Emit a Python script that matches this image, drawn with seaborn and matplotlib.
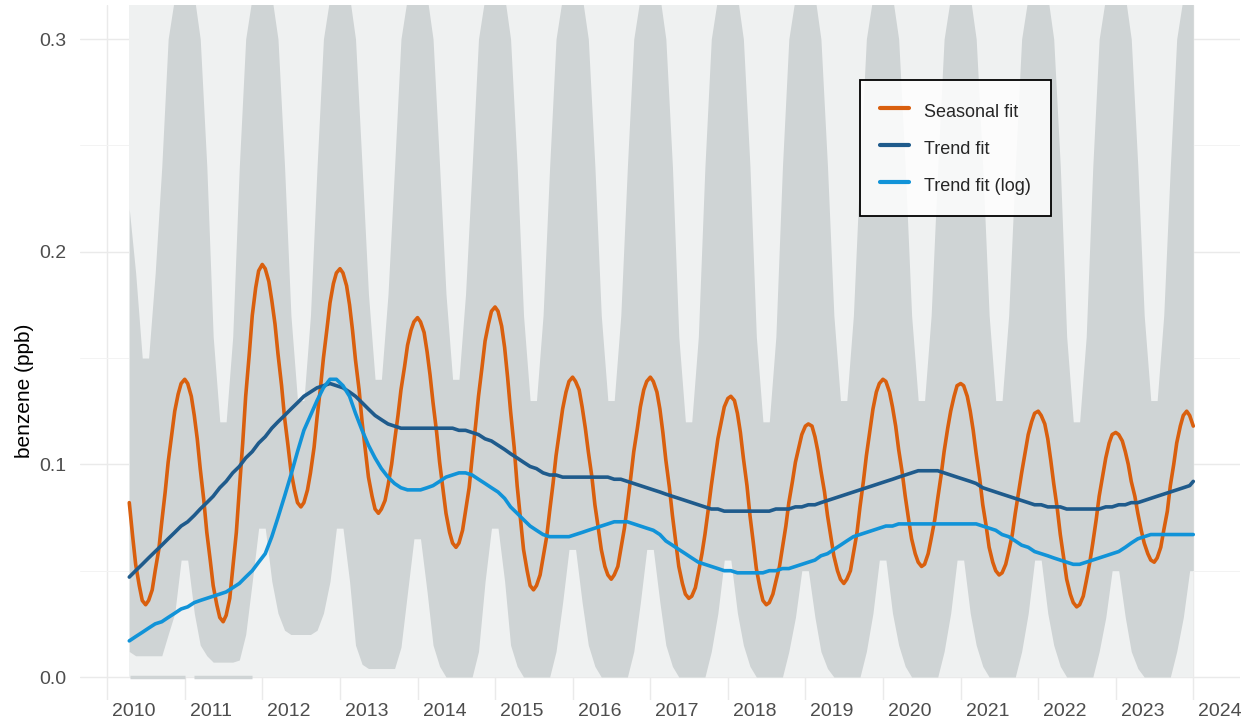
import pandas as pd
import matplotlib
matplotlib.use("Agg")
import matplotlib.pyplot as plt
import matplotlib.transforms as mtransforms
import seaborn as sns

# ---- values ----
# seasonal fit: samples on the 1st and 15th of each month, 15 Apr 2010 .. 1 Jan 2024
half_months = list(pd.date_range("2010-04-15", "2024-01-01", freq="SMS"))
seasonal_fit = [
    0.082, 0.066, 0.053, 0.043, 0.036, 0.034, 0.036, 0.041, 0.050, 0.060, 0.073, 0.087,
    0.101, 0.114, 0.125, 0.133, 0.138,                                                      # 2010
    0.140, 0.138, 0.132, 0.123, 0.112, 0.098, 0.083, 0.068, 0.055, 0.043, 0.034, 0.028,
    0.026, 0.029, 0.037, 0.051, 0.068, 0.088, 0.110, 0.132, 0.152, 0.170, 0.183, 0.191,    # 2011
    0.194, 0.192, 0.186, 0.177, 0.166, 0.152, 0.137, 0.122, 0.109, 0.097, 0.088, 0.082,
    0.080, 0.082, 0.088, 0.096, 0.108, 0.122, 0.136, 0.150, 0.164, 0.176, 0.185, 0.190,    # 2012
    0.192, 0.190, 0.184, 0.175, 0.163, 0.149, 0.135, 0.120, 0.106, 0.094, 0.085, 0.079,
    0.077, 0.079, 0.083, 0.090, 0.100, 0.111, 0.123, 0.135, 0.146, 0.156, 0.163, 0.167,    # 2013
    0.169, 0.167, 0.162, 0.153, 0.142, 0.129, 0.115, 0.101, 0.088, 0.077, 0.068, 0.063,
    0.061, 0.063, 0.069, 0.078, 0.089, 0.103, 0.118, 0.132, 0.146, 0.158, 0.166, 0.172,    # 2014
    0.174, 0.172, 0.165, 0.155, 0.141, 0.125, 0.108, 0.090, 0.074, 0.060, 0.050, 0.043,
    0.041, 0.043, 0.048, 0.056, 0.066, 0.078, 0.091, 0.104, 0.116, 0.126, 0.134, 0.139,    # 2015
    0.141, 0.139, 0.135, 0.127, 0.117, 0.106, 0.094, 0.081, 0.070, 0.060, 0.052, 0.048,
    0.046, 0.048, 0.052, 0.060, 0.070, 0.081, 0.094, 0.106, 0.117, 0.127, 0.135, 0.139,    # 2016
    0.141, 0.139, 0.134, 0.126, 0.115, 0.102, 0.089, 0.076, 0.063, 0.052, 0.044, 0.039,
    0.037, 0.038, 0.042, 0.049, 0.058, 0.067, 0.079, 0.090, 0.102, 0.112, 0.120, 0.127,    # 2017
    0.131, 0.132, 0.130, 0.124, 0.115, 0.103, 0.090, 0.076, 0.063, 0.051, 0.042, 0.036,
    0.034, 0.035, 0.039, 0.045, 0.052, 0.061, 0.071, 0.082, 0.092, 0.101, 0.108, 0.114,    # 2018
    0.118, 0.119, 0.118, 0.113, 0.106, 0.097, 0.087, 0.076, 0.066, 0.057, 0.050, 0.046,
    0.044, 0.046, 0.050, 0.058, 0.068, 0.080, 0.092, 0.104, 0.116, 0.126, 0.134, 0.138,    # 2019
    0.140, 0.139, 0.134, 0.127, 0.118, 0.107, 0.096, 0.085, 0.074, 0.065, 0.058, 0.054,
    0.052, 0.053, 0.058, 0.065, 0.074, 0.084, 0.095, 0.106, 0.117, 0.125, 0.132, 0.137,    # 2020
    0.138, 0.137, 0.132, 0.125, 0.116, 0.105, 0.093, 0.081, 0.071, 0.061, 0.054, 0.050,
    0.048, 0.049, 0.053, 0.059, 0.067, 0.077, 0.087, 0.096, 0.106, 0.114, 0.120, 0.124,    # 2021
    0.125, 0.123, 0.119, 0.112, 0.102, 0.091, 0.079, 0.067, 0.056, 0.046, 0.039, 0.035,
    0.033, 0.034, 0.038, 0.045, 0.054, 0.063, 0.074, 0.085, 0.095, 0.103, 0.110, 0.114,    # 2022
    0.115, 0.114, 0.111, 0.106, 0.100, 0.092, 0.085, 0.077, 0.069, 0.063, 0.058, 0.055,
    0.054, 0.056, 0.061, 0.069, 0.078, 0.090, 0.100, 0.110, 0.118, 0.123, 0.125, 0.123,    # 2023
    0.118,
]

# trend fits and point cloud: mid-month samples, Apr 2010 .. Dec 2023, then 1 Jan 2024
months = list(pd.date_range("2010-04-01", "2023-12-01", freq="MS") + pd.Timedelta(days=14))
months = months + [pd.Timestamp("2024-01-01")]

trend_fit = [
    0.047, 0.050, 0.053, 0.056, 0.059, 0.062, 0.065, 0.068, 0.071,
    0.073, 0.076, 0.079, 0.082, 0.085, 0.089, 0.092, 0.096, 0.099, 0.103, 0.106, 0.110,
    0.113, 0.117, 0.120, 0.123, 0.126, 0.129, 0.132, 0.134, 0.136, 0.137, 0.138, 0.137,
    0.136, 0.134, 0.132, 0.129, 0.126, 0.123, 0.121, 0.119, 0.118, 0.117, 0.117, 0.117,
    0.117, 0.117, 0.117, 0.117, 0.117, 0.117, 0.116, 0.116, 0.115, 0.114, 0.112, 0.111,
    0.109, 0.107, 0.105, 0.103, 0.101, 0.099, 0.098, 0.096, 0.095, 0.095, 0.094, 0.094,
    0.094, 0.094, 0.094, 0.094, 0.094, 0.094, 0.093, 0.093, 0.092, 0.091, 0.090, 0.089,
    0.088, 0.087, 0.086, 0.085, 0.084, 0.083, 0.082, 0.081, 0.080, 0.079, 0.079, 0.078,
    0.078, 0.078, 0.078, 0.078, 0.078, 0.078, 0.078, 0.079, 0.079, 0.079, 0.080, 0.080,
    0.081, 0.081, 0.082, 0.083, 0.084, 0.085, 0.086, 0.087, 0.088, 0.089, 0.090, 0.091,
    0.092, 0.093, 0.094, 0.095, 0.096, 0.097, 0.097, 0.097, 0.097, 0.096, 0.095, 0.094,
    0.093, 0.092, 0.091, 0.089, 0.088, 0.087, 0.086, 0.085, 0.084, 0.083, 0.082, 0.081,
    0.081, 0.080, 0.080, 0.080, 0.079, 0.079, 0.079, 0.079, 0.079, 0.079, 0.080, 0.080,
    0.081, 0.081, 0.082, 0.082, 0.083, 0.084, 0.085, 0.086, 0.087, 0.088, 0.089, 0.090,
    0.092,
]

trend_fit_log = [
    0.017, 0.019, 0.021, 0.023, 0.025, 0.026, 0.028, 0.030, 0.032,
    0.033, 0.035, 0.036, 0.037, 0.038, 0.039, 0.040, 0.042, 0.044, 0.047, 0.050, 0.054,
    0.058, 0.066, 0.075, 0.085, 0.095, 0.106, 0.116, 0.123, 0.130, 0.136, 0.140, 0.140,
    0.137, 0.132, 0.124, 0.116, 0.109, 0.103, 0.098, 0.094, 0.091, 0.089, 0.088, 0.088,
    0.088, 0.089, 0.090, 0.092, 0.094, 0.095, 0.096, 0.096, 0.095, 0.093, 0.091, 0.089,
    0.087, 0.084, 0.080, 0.077, 0.074, 0.071, 0.069, 0.067, 0.066, 0.066, 0.066, 0.066,
    0.067, 0.068, 0.069, 0.070, 0.071, 0.072, 0.073, 0.073, 0.073, 0.072, 0.071, 0.070,
    0.069, 0.067, 0.064, 0.062, 0.060, 0.058, 0.056, 0.054, 0.053, 0.052, 0.051, 0.050,
    0.050, 0.049, 0.049, 0.049, 0.049, 0.049, 0.050, 0.050, 0.051, 0.051, 0.052, 0.053,
    0.054, 0.055, 0.057, 0.058, 0.060, 0.062, 0.064, 0.066, 0.067, 0.068, 0.069, 0.070,
    0.071, 0.071, 0.072, 0.072, 0.072, 0.072, 0.072, 0.072, 0.072, 0.072, 0.072, 0.072,
    0.072, 0.072, 0.072, 0.071, 0.070, 0.069, 0.067, 0.066, 0.064, 0.062, 0.061, 0.059,
    0.058, 0.057, 0.056, 0.055, 0.054, 0.053, 0.053, 0.054, 0.055, 0.056, 0.057, 0.058,
    0.059, 0.061, 0.063, 0.065, 0.066, 0.067, 0.067, 0.067, 0.067, 0.067, 0.067, 0.067,
    0.067,
]

# dense part of the hourly point cloud: lower / upper edge per month
cloud_low = [
    0.012, 0.010, 0.010, 0.010, 0.010, 0.010, 0.020, 0.030, 0.055,
    0.055, 0.030, 0.015, 0.010, 0.007, 0.007, 0.007, 0.007, 0.008, 0.020, 0.045, 0.070,
    0.070, 0.045, 0.030, 0.022, 0.020, 0.020, 0.020, 0.020, 0.022, 0.030, 0.045, 0.070,
    0.070, 0.045, 0.015, 0.006, 0.004, 0.004, 0.004, 0.004, 0.004, 0.014, 0.040, 0.065,
    0.065, 0.040, 0.015, 0.005, 0.000, 0.000, 0.000, 0.000, 0.000, 0.012, 0.045, 0.070,
    0.070, 0.045, 0.015, 0.005, 0.000, 0.000, 0.000, 0.000, 0.000, 0.012, 0.035, 0.060,
    0.060, 0.035, 0.015, 0.005, 0.000, 0.000, 0.000, 0.000, 0.000, 0.012, 0.035, 0.060,
    0.060, 0.035, 0.015, 0.005, 0.000, 0.000, 0.000, 0.000, 0.000, 0.012, 0.030, 0.055,
    0.055, 0.030, 0.015, 0.005, 0.000, 0.000, 0.000, 0.000, 0.000, 0.012, 0.028, 0.050,
    0.050, 0.028, 0.012, 0.004, 0.000, 0.000, 0.000, 0.000, 0.000, 0.012, 0.030, 0.055,
    0.055, 0.030, 0.015, 0.005, 0.000, 0.000, 0.000, 0.000, 0.000, 0.012, 0.030, 0.055,
    0.055, 0.030, 0.015, 0.005, 0.000, 0.000, 0.000, 0.000, 0.000, 0.012, 0.030, 0.055,
    0.055, 0.030, 0.015, 0.005, 0.000, 0.000, 0.000, 0.000, 0.000, 0.012, 0.028, 0.050,
    0.050, 0.028, 0.012, 0.004, 0.000, 0.000, 0.000, 0.000, 0.000, 0.012, 0.028, 0.050,
    0.050,
]

cloud_high = [
    0.22, 0.19, 0.15, 0.15, 0.19, 0.24, 0.30, 0.32, 0.32,
    0.32, 0.32, 0.30, 0.24, 0.16, 0.12, 0.12, 0.16, 0.24, 0.30, 0.32, 0.32,
    0.32, 0.32, 0.30, 0.24, 0.17, 0.13, 0.13, 0.17, 0.24, 0.30, 0.32, 0.32,
    0.32, 0.32, 0.30, 0.24, 0.18, 0.14, 0.14, 0.18, 0.24, 0.30, 0.32, 0.32,
    0.32, 0.32, 0.30, 0.24, 0.18, 0.14, 0.14, 0.18, 0.24, 0.30, 0.32, 0.32,
    0.32, 0.32, 0.30, 0.24, 0.17, 0.13, 0.13, 0.17, 0.24, 0.30, 0.32, 0.32,
    0.32, 0.32, 0.30, 0.24, 0.17, 0.13, 0.13, 0.17, 0.24, 0.30, 0.32, 0.32,
    0.32, 0.32, 0.30, 0.24, 0.16, 0.12, 0.12, 0.16, 0.24, 0.30, 0.32, 0.32,
    0.32, 0.32, 0.30, 0.24, 0.16, 0.12, 0.12, 0.16, 0.24, 0.30, 0.32, 0.32,
    0.32, 0.32, 0.30, 0.24, 0.17, 0.13, 0.13, 0.17, 0.24, 0.30, 0.32, 0.32,
    0.32, 0.32, 0.30, 0.24, 0.17, 0.13, 0.13, 0.17, 0.24, 0.30, 0.32, 0.32,
    0.32, 0.32, 0.30, 0.24, 0.17, 0.13, 0.13, 0.17, 0.24, 0.30, 0.32, 0.32,
    0.32, 0.32, 0.30, 0.24, 0.16, 0.12, 0.12, 0.16, 0.24, 0.30, 0.32, 0.32,
    0.32, 0.32, 0.30, 0.24, 0.17, 0.13, 0.13, 0.17, 0.24, 0.30, 0.32, 0.32,
    0.32,
]

# runs of readings sitting exactly at 0 ppb
zero_start = ["2010-04-20", "2011-02-15"]
zero_end = ["2011-01-01", "2011-11-15"]

fit_names = ["Seasonal fit", "Trend fit", "Trend fit (log)"]
fit_colors = ["#D95F0E", "#1F5B8C", "#1193D8"]
year_ticks = list(range(2010, 2025))

POINT_COLOR = "#CFD4D5"
SPARSE_COLOR = "#EFF1F1"
GRID_COLOR = "#EAEAEA"
TICK_FONTSIZE = 14

if __name__ == '__main__':
    sns.set_style("white")
    plt.rcParams['font.family'] = ['Liberation Sans', 'DejaVu Sans']

    fig = plt.figure(figsize=(12.55, 7.25), dpi=100)
    ax = fig.add_axes([80 / 1255, 25 / 725, 1160 / 1255, 695 / 725])
    ax.set_axisbelow(True)

    # point cloud: sparse outer part and dense core
    ax.fill_between(months, 0, 0.32, color=SPARSE_COLOR, linewidth=0, zorder=1)
    ax.fill_between(months, cloud_low, cloud_high, color=POINT_COLOR, linewidth=0, zorder=1.2)
    ax.hlines([0] * len(zero_start), pd.to_datetime(zero_start), pd.to_datetime(zero_end),
              color=POINT_COLOR, linewidth=2.5, zorder=1.2)

    df = pd.concat([
        pd.DataFrame({'date': half_months, 'value': seasonal_fit, 'fit': fit_names[0]}),
        pd.DataFrame({'date': months, 'value': trend_fit, 'fit': fit_names[1]}),
        pd.DataFrame({'date': months, 'value': trend_fit_log, 'fit': fit_names[2]}),
    ], ignore_index=True)
    sns.lineplot(data=df, x='date', y='value', hue='fit', hue_order=fit_names,
                 palette=fit_colors, linewidth=2.6, estimator=None, ax=ax, zorder=3)

    ax.set_xlim(pd.Timestamp("2009-08-26"), pd.Timestamp("2024-08-08"))
    ax.set_ylim(-0.0108, 0.316)

    ax.set_xticks([pd.Timestamp(f"{y}-01-01") for y in year_ticks])
    ax.set_xticklabels([str(y) for y in year_ticks])
    ax.set_yticks([0.0, 0.1, 0.2, 0.3])
    ax.set_yticklabels(["0.0", "0.1", "0.2", "0.3"])
    ax.set_yticks([0.05, 0.15, 0.25], minor=True)

    ax.grid(True, which='major', axis='both', color=GRID_COLOR, linewidth=1.0)
    ax.grid(True, which='minor', axis='y', color="#F3F3F3", linewidth=0.7)
    sns.despine(ax=ax, left=True, bottom=True)

    ax.tick_params(axis='both', which='both', length=0, labelsize=TICK_FONTSIZE, labelcolor='#4D4D4D')
    ax.tick_params(axis='x', pad=2.5)
    ax.tick_params(axis='y', pad=9.5)
    offset = mtransforms.ScaledTranslation(5 / 100, 0, fig.dpi_scale_trans)
    for lab in ax.get_xticklabels():
        lab.set_horizontalalignment('left')
        lab.set_transform(lab.get_transform() + offset)

    ax.set_xlabel("")
    ax.set_ylabel("benzene (ppb)", fontsize=15, color='black')
    ax.yaxis.set_label_coords((25 - 80) / 1160, (700 - 391) / 695)
    ax.yaxis.label.set_verticalalignment('center')

    handles, labels = ax.get_legend_handles_labels()
    leg = ax.legend(handles, labels, loc='upper left',
                    bbox_to_anchor=((860 - 80) / 1160, (700 - 80) / 695),
                    borderaxespad=0, fontsize=13, frameon=True, fancybox=False,
                    borderpad=1.1, labelspacing=0.83, handleheight=1.5,
                    handlelength=1.6, handletextpad=0.85)
    frame = leg.get_frame()
    frame.set_alpha(None)
    frame.set_facecolor((1, 1, 1, 0.85))
    frame.set_edgecolor('black')
    frame.set_linewidth(1.3)
    for line in leg.get_lines():
        line.set_linewidth(3.0)

    fig.savefig("out.png", dpi=100)
    plt.close(fig)
